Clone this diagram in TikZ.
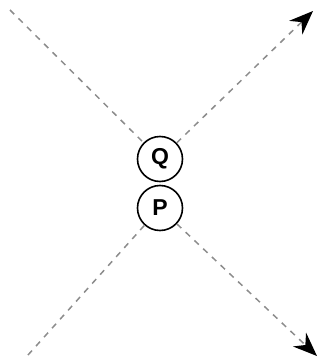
\documentclass[tikz,border=0pt]{standalone}
\usepackage{fontspec}
\setsansfont{Liberation Sans}
\usetikzlibrary{arrows.meta}

\begin{document}
\begin{tikzpicture}[
  x=1pt, y=-1pt,
  font=\sffamily\bfseries,
  particle/.style={circle, draw=black, line width=1.6pt,
                   minimum size=45pt, inner sep=0pt,
                   font=\fontsize{23}{23}\sffamily\bfseries},
  track/.style={draw=black!45, line width=1.5pt,
                dash pattern=on 6pt off 6pt},
  outtrack/.style={track,
                   -{Stealth[length=24pt, width=19pt, inset=8pt, black]}}
]
\useasboundingbox (0,0) rectangle (320,364);

% ---- vertices ----
\node[particle] (Q) at (160,159) {Q};
\node[particle] (P) at (160,208) {P};

% ---- free ends ----
\coordinate (tl) at (10,10);
\coordinate (tr) at (313,11);
\coordinate (bl) at (28,355);
\coordinate (br) at (317,356);

% ---- tracks ----
\draw[track] (tl) -- (Q);
\draw[outtrack] (Q) -- (tr);
\draw[track] (bl) -- (P);
\draw[outtrack] (P) -- (br);

\end{tikzpicture}
\end{document}
